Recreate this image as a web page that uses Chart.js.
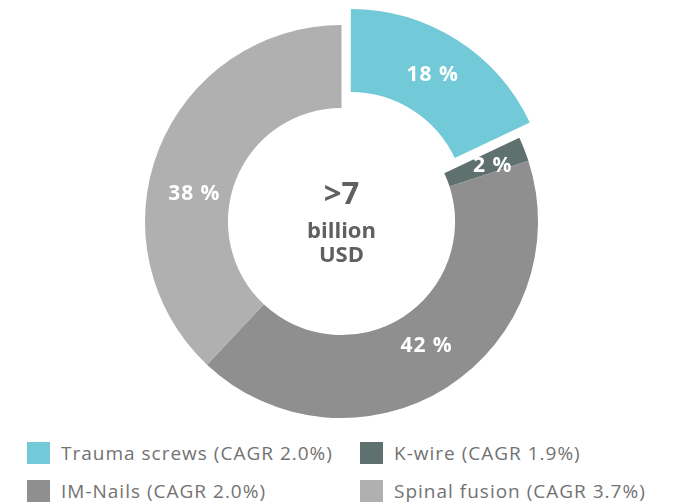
<!DOCTYPE html>
<html>
<head>
<meta charset="utf-8">
<script src="https://cdn.jsdelivr.net/npm/chart.js@4"></script>
<style>
  body { margin: 0; background: #fff; font-family: 'Open Sans', sans-serif; }
  #wrap { position: relative; width: 674px; height: 504px; overflow: hidden; }
  #chart { position: absolute; left: 0; top: 0; }
  .center { position: absolute; left: 0; width: 683px; text-align: center; color: #606060; font-weight: 700; white-space: nowrap; }
  #legend { position: absolute; left: 27px; top: 442px; display: grid; grid-template-columns: 333px 300px; row-gap: 16px; }
  #legend .item { display: flex; align-items: center; height: 22px; font-size: 19px; font-weight: 400; letter-spacing: 1px; color: #727272; white-space: nowrap; }
  #legend .box { width: 23px; height: 22px; margin-right: 11px; flex: none; }
</style>
</head>
<body>
<div id="wrap">
  <canvas id="chart" width="674" height="430"></canvas>
  <div class="center" style="top:177px;font-size:31px;line-height:31px;">&gt;7</div>
  <div class="center" style="top:218px;font-size:22px;line-height:22px;">billion</div>
  <div class="center" style="top:242px;font-size:22px;line-height:22px;">USD</div>
  <div id="legend"></div>
</div>
<script>
// --- Data ---
const categories = ['Trauma screws', 'K-wire', 'IM-Nails', 'Spinal fusion'];
const cagr = ['2.0%', '1.9%', '2.0%', '3.7%'];
const shares = [18, 2, 42, 38];
const colors = ['#72c9d8', '#5f716e', '#8f8f8f', '#b0b0b0'];

// only the first slice is pulled out
const sliceOffsets = [68, 0, 0, 0];
// small hand nudges so the labels sit where the original has them
const labelNudge = [[-1, -1], [7, 2], [2, -6], [-3, 30]];

// --- Legend ---
const legendEl = document.getElementById('legend');
categories.forEach((cat, i) => {
    const item = document.createElement('div');
    item.className = 'item';
    const box = document.createElement('span');
    box.className = 'box';
    box.style.background = colors[i];
    item.appendChild(box);
    item.appendChild(document.createTextNode(`${cat} (CAGR ${cagr[i]})`));
    legendEl.appendChild(item);
});

// --- Percent labels on the ring ---
const pctLabels = {
    id: 'pctLabels',
    afterDatasetsDraw(chart) {
        const ctx = chart.ctx;
        const meta = chart.getDatasetMeta(0);
        ctx.save();
        ctx.fillStyle = '#fff';
        ctx.font = '700 21px "Open Sans"';
        ctx.letterSpacing = '1px';
        ctx.textAlign = 'center';
        ctx.textBaseline = 'middle';
        meta.data.forEach((arc, i) => {
            const mid = (arc.startAngle + arc.endAngle) / 2;
            const r = (arc.innerRadius + arc.outerRadius) / 2 + (arc.options.offset || 0) / 4;
            const x = arc.x + Math.cos(mid) * r + labelNudge[i][0];
            const y = arc.y + Math.sin(mid) * r + labelNudge[i][1];
            ctx.fillText(shares[i] + ' %', x, y);
        });
        ctx.restore();
    }
};

const ctx = document.getElementById('chart').getContext('2d');
new Chart(ctx, {
    type: 'doughnut',
    data: {
        labels: categories,
        datasets: [{
            data: shares,
            backgroundColor: colors,
            borderWidth: 0,
            offset: sliceOffsets,
            hoverOffset: 0
        }]
    },
    options: {
        responsive: false,
        animation: false,
        radius: 196.5,
        cutout: '57.8%',
        layout: { padding: { left: 9, top: 13 } },
        plugins: {
            legend: { display: false },
            tooltip: { enabled: false }
        }
    },
    plugins: [pctLabels]
});
</script>
</body>
</html>
